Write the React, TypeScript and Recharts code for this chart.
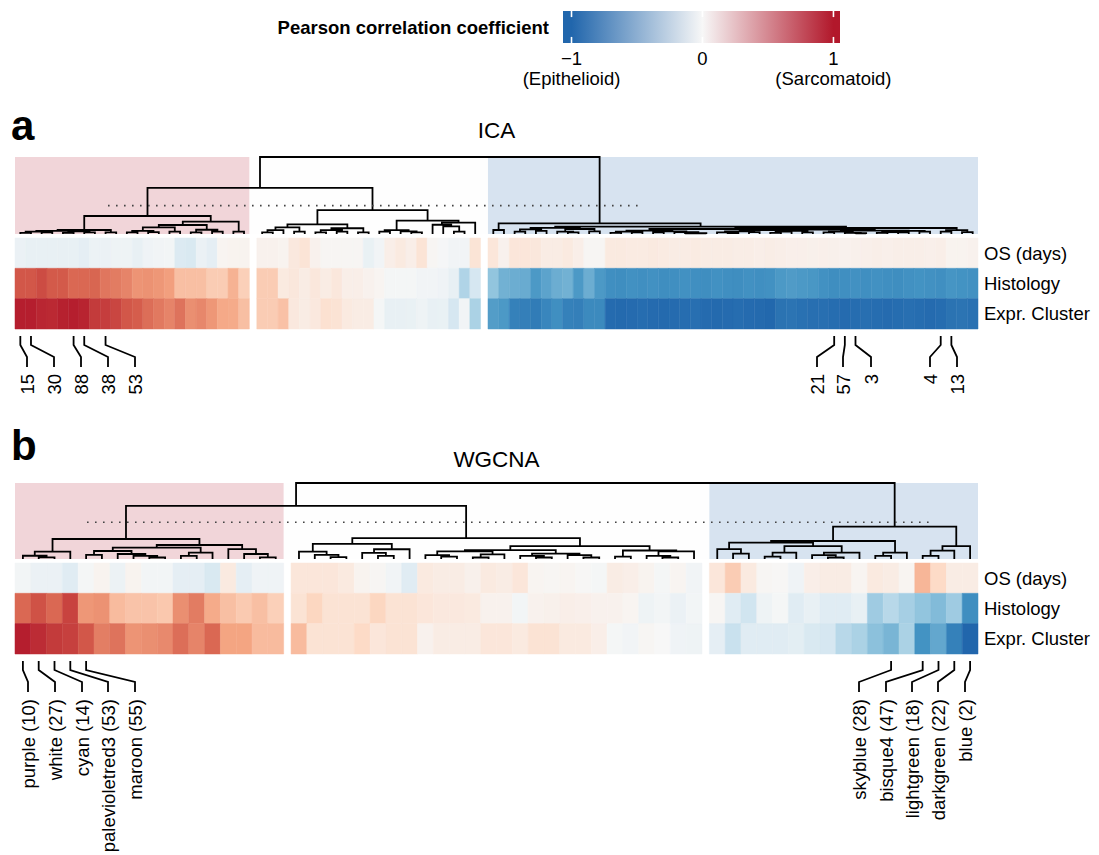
import React from "react";
import { ComposedChart, XAxis, YAxis, Line, Scatter, ReferenceArea, ReferenceLine } from "recharts";

type Tree = 0 | [number, Tree, Tree];

// ---- data -------------------------------------------------------------

const rowNames = ["OS (days)", "Histology", "Expr. Cluster"];

// ICA: 89 components, three clusters (sarcomatoid / mixed / epithelioid)
const icaGroupSizes = [22, 21, 46];
const icaOs = [
  -0.08, -0.1, -0.1, -0.1, -0.1, -0.1, -0.12, -0.07, -0.08, -0.06, -0.06, -0.1, -0.05, -0.04, -0.03, -0.18, -0.2, -0.08, -0.12, 0.03, 0.04, 0.04,
  0.05, 0.05, 0.04, 0.13, 0.17, 0.05, 0.02, 0.02, 0.02, 0.02, -0.09, -0.04, 0.08, 0.12, 0.08, 0.17, 0.02, -0.01, -0.04, -0.04, 0.17,
  0.15, 0.05, 0.15, 0.15, 0.14, 0.1, 0.1, 0.12, 0.08, 0.02, 0.02, 0.12, 0.12, 0.11, 0.11, 0.12, 0.11, 0.1, 0.1, 0.11, 0.1,
  0.1, 0.1, 0.09, 0.09, 0.08, 0.09, 0.08, 0.07, 0.07, 0.06, 0.07, 0.06, 0.05, 0.06, 0.07, 0.08, 0.07, 0.08, 0.08, 0.08,
  0.07, 0.08, 0.04, 0.04, 0.05,
];
const icaHistology = [
  0.78, 0.78, 0.82, 0.77, 0.77, 0.72, 0.72, 0.73, 0.67, 0.65, 0.62, 0.56, 0.57, 0.55, 0.52, 0.38, 0.38, 0.38, 0.32, 0.32, 0.44, 0.3,
  0.32, 0.32, 0.12, 0.14, 0.1, 0.14, 0.1, 0.14, 0.08, 0.08, 0.05, 0.03, -0.02, -0.02, -0.02, -0.04, -0.04, -0.05, -0.1, -0.38, -0.22,
  -0.5, -0.6, -0.62, -0.63, -0.72, -0.67, -0.62, -0.6, -0.72, -0.62, -0.72, -0.77, -0.78, -0.76, -0.77, -0.76, -0.78, -0.77, -0.76, -0.77, -0.78,
  -0.76, -0.77, -0.78, -0.76, -0.77, -0.76, -0.72, -0.71, -0.72, -0.73, -0.76, -0.78, -0.77, -0.76, -0.77, -0.76, -0.77, -0.78, -0.76, -0.75,
  -0.76, -0.77, -0.74, -0.75, -0.76,
];
const icaExprCluster = [
  0.98, 0.98, 0.95, 0.94, 0.97, 0.98, 0.96, 0.88, 0.87, 0.84, 0.78, 0.76, 0.7, 0.66, 0.62, 0.68, 0.58, 0.61, 0.55, 0.48, 0.47, 0.38,
  0.32, 0.32, 0.37, 0.13, 0.1, 0.13, 0.2, 0.18, 0.12, 0.1, 0.1, -0.02, -0.1, -0.1, -0.09, -0.06, -0.1, -0.09, -0.22, -0.04, -0.4,
  -0.7, -0.72, -0.85, -0.86, -0.88, -0.82, -0.77, -0.85, -0.86, -0.8, -0.8, -0.97, -0.98, -0.97, -0.96, -0.97, -0.98, -0.97, -0.96, -0.95, -0.97,
  -0.98, -0.97, -0.96, -0.97, -0.98, -0.99, -0.93, -0.92, -0.94, -0.95, -0.95, -0.96, -0.97, -0.96, -0.95, -0.96, -0.97, -0.96, -0.95, -0.96,
  -0.97, -0.96, -0.93, -0.92, -0.94,
];
const icaTree: Tree = [1.0,
  [0.6,
    [0.234,
      [0.052,
        [0.04, [0.03, [0.015, 0, 0], [0.02, 0, 0]], [0.035, [0.015, 0, 0], [0.02, 0, 0]]],
        [0.02, 0, 0]],
      [0.16,
        [0.117,
          [0.087, [0.04, [0.02, 0, 0], [0.025, 0, 0]], [0.03, 0, 0]],
          [0.055, [0.02, 0, 0], [0.03, 0, 0]]],
        [0.03, 0, 0]]],
    [0.31,
      [0.126,
        [0.087, [0.05, [0.02, 0, 0], 0], [0.03, 0, 0]],
        [0.075, [0.05, [0.02, 0, 0], [0.03, 0, 0]], [0.02, 0, 0]]],
      [0.173,
        [0.05, [0.03, 0, 0], [0.035, 0, [0.02, 0, 0]]],
        [0.147, [0.12, 0, [0.1, 0, [0.03, 0, 0]]], 0]]]],
  [0.139,
    [0.052, 0, 0],
    [0.095,
      [0.08, [0.06, [0.03, 0, 0], [0.04, 0, 0]], [0.065, [0.03, 0, [0.02, 0, 0]], [0.035, 0, 0]]],
      [0.078,
        [0.065,
          [0.045, [0.03, [0.015, 0, 0], [0.02, 0, 0]], [0.035, [0.02, 0, 0], [0.025, 0, [0.01, [0.008, 0, 0], 0]]]],
          [0.058,
            [0.05, [0.035, [0.02, 0, [0.012, 0, 0]], [0.025, 0, 0]], [0.04, [0.03, [0.015, 0, 0], 0], [0.02, 0, 0]]],
            [0.045, [0.03, [0.02, 0, 0], [0.015, 0, [0.01, 0, 0]]], [0.04, [0.025, [0.015, 0, 0], [0.02, 0, 0]], [0.03, 0, 0]]]]],
        [0.05, [0.03, 0, 0], [0.025, 0, 0]]]]]];
const icaCutHeight = 0.368;
const icaLabels = ["15", "30", "88", "38", "53", "21", "57", "3", "4", "13"];
const icaLabelColumns = [0, 1, 5, 6, 8, 75, 76, 77, 85, 86];

// WGCNA: 60 modules
const wgcnaGroupSizes = [17, 26, 17];
const wgcnaOs = [
  -0.03, -0.08, -0.08, -0.15, -0.02, 0.04, -0.07, 0.04, -0.03, -0.03, -0.12, -0.12, -0.2, 0.12, -0.12, -0.05, -0.05,
  0.15, 0.15, 0.15, 0.12, 0.04, 0.02, -0.04, -0.15, 0.12, 0.1, 0.1, 0.06, 0.12, 0.1, 0.15, 0.03, 0.02, 0.03, 0.01, -0.02, 0.1, 0.08, 0.04, -0.02, 0.03, -0.04,
  0.15, 0.32, 0.12, 0.02, 0.01, -0.05, 0.08, 0.1, 0.1, 0.03, 0.12, 0.1, 0.03, 0.42, 0.25, 0.1, 0.1,
];
const wgcnaHistology = [
  0.72, 0.8, 0.72, 0.85, 0.55, 0.57, 0.4, 0.36, 0.36, 0.34, 0.58, 0.65, 0.47, 0.38, 0.33, 0.38, 0.3,
  0.18, 0.27, 0.18, 0.18, 0.18, 0.27, 0.18, 0.18, 0.15, 0.13, 0.13, 0.12, 0.05, 0.05, -0.03, 0.05, 0.06, 0.08, 0.07, 0.05, 0.05, 0.03, -0.06, -0.03, -0.08, -0.03,
  0.02, -0.15, -0.25, -0.06, -0.02, -0.15, -0.1, -0.15, -0.15, -0.1, -0.45, -0.35, -0.42, -0.5, -0.55, -0.45, -0.78,
];
const wgcnaExprCluster = [
  0.98, 0.93, 0.88, 0.86, 0.78, 0.64, 0.68, 0.56, 0.58, 0.6, 0.7, 0.62, 0.72, 0.5, 0.5, 0.4, 0.4,
  0.4, 0.18, 0.18, 0.18, 0.25, 0.15, 0.18, 0.18, 0.05, 0.1, 0.1, 0.1, 0.15, 0.15, 0.12, 0.18, 0.18, 0.12, 0.12, 0.08, -0.02, -0.04, 0.02, 0.0, -0.05, -0.06,
  -0.12, -0.28, -0.15, -0.15, -0.15, -0.13, -0.2, -0.22, -0.35, -0.4, -0.52, -0.58, -0.4, -0.75, -0.65, -0.85, -1.0,
];
const wgcnaTree: Tree = [1.0,
  [0.7,
    [0.263,
      [0.096, [0.043, 0, [0.022, 0, 0]], 0],
      [0.184,
        [0.149,
          [0.105, [0.053, 0, 0], [0.066, 0, [0.04, 0, [0.02, 0, 0]]]],
          [0.083, [0.04, 0, 0], 0]],
        [0.13, 0, [0.066, 0, [0.022, 0, 0]]]]],
    [0.275,
      [0.2,
        [0.096, 0, [0.055, 0, [0.025, 0, 0]]],
        [0.128, [0.08, 0, [0.04, 0, 0]], 0]],
      [0.17,
        [0.118,
          [0.1, [0.05, 0, [0.03, 0, 0]], [0.06, [0.02, 0, 0], 0]],
          [0.07, [0.04, 0, [0.02, 0, 0]], [0.05, 0, [0.02, 0, 0]]]],
        [0.112, [0.03, 0, 0], [0.1, [0.04, 0, [0.02, 0, 0]], 0]]]]],
  [0.425,
    [0.237,
      [0.215,
        [0.13, 0, [0.07, 0, 0]],
        [0.17, [0.083, [0.03, 0, 0], 0], [0.083, [0.05, 0, [0.02, 0, 0]], 0]]],
      [0.083, [0.04, 0, 0], 0]],
    [0.17, [0.11, [0.04, 0, 0], 0], 0]]];
const wgcnaCutHeight = 0.483;
const wgcnaLabels = [
  "purple (10)", "white (27)", "cyan (14)", "palevioletred3 (53)", "maroon (55)",
  "skyblue (28)", "bisque4 (47)", "lightgreen (18)", "darkgreen (22)", "blue (2)",
];
const wgcnaLabelColumns = [0, 1, 2, 3, 4, 54, 56, 57, 58, 59];

const colorbarTicks = [-1, 0, 1];
const colorbarTickText = ["\u22121", "0", "1"];
const colorbarTickSub = ["(Epithelioid)", "", "(Sarcomatoid)"];

// ---- styling / layout --------------------------------------------------

const FONT = '"Liberation Sans", Arial, Helvetica, sans-serif';
const PAGE_W = 1099;
const PLOT_LEFT = 15;
const PLOT_RIGHT = 978;
const TEXT_SIZE = 18.5;
const LINE_W = 1.8;
const RDBU = ["#2166AC", "#4393C3", "#92C5DE", "#D1E5F0", "#F7F7F7", "#FDDBC7", "#F4A582", "#D6604D", "#B2182B"];
const REGION_FILLS = ["#B2182B", "#F7F7F7", "#2166AC"];

const hexRgb = (h: string) => [1, 3, 5].map((i) => parseInt(h.slice(i, i + 2), 16));
function corrColor(v: number) {
  const t = ((Math.max(-1, Math.min(1, v)) + 1) / 2) * (RDBU.length - 1);
  const i = Math.min(Math.floor(t), RDBU.length - 2);
  const f = t - i;
  const a = hexRgb(RDBU[i]);
  const b = hexRgb(RDBU[i + 1]);
  const c = a.map((x, k) => Math.round(x + (b[k] - x) * f));
  return `rgb(${c[0]},${c[1]},${c[2]})`;
}

type Pt = { x: number; y: number | null };

function dendrogramPoints(tree: Tree, leafX: (k: number) => number): Pt[] {
  const pts: Pt[] = [];
  let k = 0;
  const walk = (t: Tree): [number, number] => {
    if (t === 0) return [leafX(k++), 0];
    const [h, a, b] = t;
    const [xa, ya] = walk(a);
    const [xb, yb] = walk(b);
    pts.push({ x: xa, y: ya }, { x: xa, y: h }, { x: xb, y: h }, { x: xb, y: yb }, { x: xb, y: null });
    return [(xa + xb) / 2, h];
  };
  walk(tree);
  return pts;
}

type PanelSpec = {
  top: number;
  height: number;
  rootY: number;
  leafY: number;
  gap: number;
  groups: number[];
  rows: number[][];
  tree: Tree;
  cut: number;
  cutPx: [number, number];
  rowEdges: number[];
  leaderY: number[];
  labelY: number;
  labels: string[];
  labelColumns: number[];
  labelPx: number[];
};

function Panel({ spec }: { spec: PanelSpec }) {
  const { groups, gap, rootY, leafY, top, height } = spec;
  const nCols = groups.reduce((a, b) => a + b, 0);
  const totalX = nCols + gap * (groups.length - 1);
  const pxPerX = (PLOT_RIGHT - PLOT_LEFT) / totalX;
  const pxPerH = leafY - rootY;
  const hAt = (py: number) => (leafY - py) / pxPerH;
  const xAt = (px: number) => (px - PLOT_LEFT) / pxPerX;
  const colLeft = (i: number) => {
    let g = 0;
    let acc = 0;
    while (i >= acc + groups[g]) {
      acc += groups[g];
      g++;
    }
    return i + g * gap;
  };
  const colMid = (i: number) => colLeft(i) + 0.5;
  const headroom = 4;
  const yDomain = [1 - (top + height - rootY) / pxPerH, 1 + headroom / pxPerH];

  const lastStart = groups[0] + groups[1] + 2 * gap;
  const regions = [
    [0, groups[0]],
    [groups[0], lastStart],
    [lastStart, totalX],
  ];

  const dendro = dendrogramPoints(spec.tree, colMid);
  const [y0, y1, y2, y3] = spec.leaderY.map(hAt);
  const leaders: Pt[] = [];
  spec.labelColumns.forEach((c, j) => {
    const cx = colMid(c);
    const lx = xAt(spec.labelPx[j]);
    leaders.push({ x: cx, y: y0 }, { x: cx, y: y1 }, { x: lx, y: y2 }, { x: lx, y: y3 }, { x: lx, y: null });
  });
  const labelPts = spec.labels.map((label, j) => ({ x: xAt(spec.labelPx[j]), y: hAt(spec.labelY), label }));
  const rowCenters = rowNames.map((_, r) => hAt((spec.rowEdges[r] + spec.rowEdges[r + 1]) / 2));

  return (
    <div style={{ position: "absolute", left: 0, top }}>
      <ComposedChart
        width={PAGE_W}
        height={height}
        margin={{ top: rootY - headroom - top, left: PLOT_LEFT, right: 0, bottom: 0 }}
      >
        <XAxis type="number" dataKey="x" domain={[0, totalX]} hide />
        <YAxis
          type="number"
          dataKey="y"
          orientation="right"
          width={PAGE_W - PLOT_RIGHT}
          domain={yDomain}
          ticks={rowCenters}
          interval={0}
          tickFormatter={(v: number) => rowNames[rowCenters.findIndex((c) => Math.abs(c - v) < 1e-6)] ?? ""}
          axisLine={false}
          tickLine={false}
          tickSize={0}
          tickMargin={6}
          tick={{ fill: "#000", fontSize: TEXT_SIZE }}
        />
        {spec.rows.map((vals, r) =>
          vals.map((v, i) => {
            const col = corrColor(v);
            return (
              <ReferenceArea
                key={`c-${r}-${i}`}
                x1={colLeft(i)}
                x2={colLeft(i) + 1}
                y1={hAt(spec.rowEdges[r + 1])}
                y2={hAt(spec.rowEdges[r])}
                fill={col}
                fillOpacity={1}
                stroke={col}
                strokeWidth={0.5}
              />
            );
          })
        )}
        <Line
          data={dendro}
          dataKey="y"
          stroke="#000"
          strokeWidth={LINE_W}
          dot={false}
          activeDot={false}
          connectNulls={false}
          isAnimationActive={false}
        />
        <ReferenceLine
          segment={[
            { x: xAt(spec.cutPx[0]), y: spec.cut },
            { x: xAt(spec.cutPx[1]), y: spec.cut },
          ]}
          stroke="#444"
          strokeWidth={1.6}
          strokeDasharray="1.6 6.4"
        />
        {regions.map(([a, b], g) => (
          <ReferenceArea
            key={`r-${g}`}
            x1={a}
            x2={b}
            y1={0}
            y2={1}
            fill={REGION_FILLS[g]}
            fillOpacity={0.18}
            stroke="none"
          />
        ))}
        <Line
          data={leaders}
          dataKey="y"
          stroke="#000"
          strokeWidth={LINE_W}
          dot={false}
          activeDot={false}
          connectNulls={false}
          isAnimationActive={false}
        />
        <Scatter
          data={labelPts}
          dataKey="y"
          isAnimationActive={false}
          shape={(p: any) => (
            <text
              x={p.cx}
              y={p.cy}
              transform={`rotate(-90 ${p.cx} ${p.cy})`}
              textAnchor="end"
              dominantBaseline="central"
              fontSize={TEXT_SIZE}
              fill="#000"
            >
              {p.payload.label}
            </text>
          )}
        />
      </ComposedChart>
    </div>
  );
}

const CB_DOMAIN = [-1.065, 1.05];
const colorbarData = colorbarTicks.map((t) => ({ x: t, y: 0.5 }));

function ColorbarTick(props: any) {
  const { x, y, payload } = props;
  const j = colorbarTicks.indexOf(payload.value);
  return (
    <g>
      <text x={x} y={y + 21.5} textAnchor="middle" fontSize={TEXT_SIZE} fill="#000">
        {colorbarTickText[j]}
      </text>
      {colorbarTickSub[j] ? (
        <text x={x} y={y + 41.5} textAnchor="middle" fontSize={TEXT_SIZE} fill="#000">
          {colorbarTickSub[j]}
        </text>
      ) : null}
    </g>
  );
}

function Colorbar() {
  const off = (v: number) => (v - CB_DOMAIN[0]) / (CB_DOMAIN[1] - CB_DOMAIN[0]);
  return (
    <div style={{ position: "absolute", left: 0, top: 0 }}>
      <ComposedChart
        width={PAGE_W}
        height={92}
        data={colorbarData}
        margin={{ top: 11, left: 563, right: PAGE_W - 840, bottom: 0 }}
      >
        <defs>
          <linearGradient id="corrGradient" x1="0" x2="1" y1="0" y2="0">
            <stop offset={off(-1)} stopColor="#2166AC" />
            <stop offset={off(0)} stopColor="#F7F7F7" />
            <stop offset={off(1)} stopColor="#B2182B" />
          </linearGradient>
        </defs>
        <XAxis
          type="number"
          dataKey="x"
          domain={CB_DOMAIN}
          ticks={colorbarTicks}
          interval={0}
          height={49}
          axisLine={false}
          tickLine={false}
          tickSize={0}
          tickMargin={0}
          tick={<ColorbarTick />}
        />
        <YAxis type="number" dataKey="y" domain={[0, 1]} hide />
        <ReferenceArea
          x1={CB_DOMAIN[0]}
          x2={CB_DOMAIN[1]}
          y1={0}
          y2={1}
          fill="url(#corrGradient)"
          fillOpacity={1}
          stroke="none"
        />
        {colorbarTicks.map((t) => (
          <ReferenceLine key={`lo-${t}`} segment={[{ x: t, y: 0 }, { x: t, y: 0.19 }]} stroke="#fff" strokeWidth={1.6} />
        ))}
        {colorbarTicks.map((t) => (
          <ReferenceLine key={`hi-${t}`} segment={[{ x: t, y: 0.81 }, { x: t, y: 1 }]} stroke="#fff" strokeWidth={1.6} />
        ))}
      </ComposedChart>
    </div>
  );
}

const icaSpec: PanelSpec = {
  top: 140,
  height: 262,
  rootY: 157,
  leafY: 234,
  gap: 0.7,
  groups: icaGroupSizes,
  rows: [icaOs, icaHistology, icaExprCluster],
  tree: icaTree,
  cut: icaCutHeight,
  cutPx: [108, 640],
  rowEdges: [238, 268.3, 298.7, 329],
  leaderY: [336, 345, 357, 367],
  labelY: 374,
  labels: icaLabels,
  labelColumns: icaLabelColumns,
  labelPx: [27, 54, 81, 108, 135, 817, 843, 871, 930, 957],
};

const wgcnaSpec: PanelSpec = {
  top: 470,
  height: 385,
  rootY: 483,
  leafY: 559,
  gap: 0.47,
  groups: wgcnaGroupSizes,
  rows: [wgcnaOs, wgcnaHistology, wgcnaExprCluster],
  tree: wgcnaTree,
  cut: wgcnaCutHeight,
  cutPx: [87, 932],
  rowEdges: [563, 593.3, 623.6, 654],
  leaderY: [661, 670, 682, 692],
  labelY: 699,
  labels: wgcnaLabels,
  labelColumns: wgcnaLabelColumns,
  labelPx: [28, 55, 82, 108, 135, 859, 886, 912, 938, 965],
};

export default function App() {
  return (
    <div
      style={{
        position: "absolute",
        left: 0,
        top: 0,
        width: PAGE_W,
        height: 855,
        background: "#fff",
        fontFamily: FONT,
        overflow: "hidden",
      }}
    >
      <Colorbar />
      <Panel spec={icaSpec} />
      <Panel spec={wgcnaSpec} />
      <svg
        width={PAGE_W}
        height={855}
        style={{ position: "absolute", left: 0, top: 0, pointerEvents: "none" }}
      >
        <text x={549} y={34} textAnchor="end" fontSize={TEXT_SIZE} fontWeight="bold" fill="#000">
          Pearson correlation coefficient
        </text>
        <text x={11} y={140} fontSize={42} fontWeight="bold" fill="#000">a</text>
        <text x={496.5} y={138} textAnchor="middle" fontSize={22.5} fill="#000">ICA</text>
        <text x={11} y={460} fontSize={42} fontWeight="bold" fill="#000">b</text>
        <text x={496.5} y={467} textAnchor="middle" fontSize={22.5} fill="#000">WGCNA</text>
      </svg>
    </div>
  );
}
